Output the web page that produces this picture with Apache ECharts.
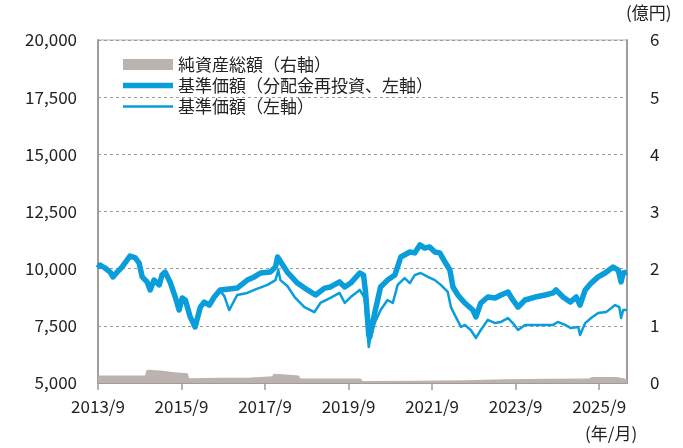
<!DOCTYPE html>
<html><head><meta charset="utf-8">
<script src="https://cdn.jsdelivr.net/npm/echarts@6/dist/echarts.min.js"></script>
<style>html,body{margin:0;padding:0;background:#fff}#c{width:683px;height:448px}</style>
</head><body><div id="c"></div>
<script>
// months since 2013/9
const xTickMonths = [0, 24, 48, 72, 96, 120, 144];
const xTickLabels = ['2013/9', '2015/9', '2017/9', '2019/9', '2021/9', '2023/9', '2025/9'];
const seriesNames = ['純資産総額（右軸）', '基準価額（分配金再投資、左軸）', '基準価額（左軸）'];

const navMonths = [0,0.6,2.0,3.5,4.3,5.5,6.9,8.4,9.2,10.7,11.8,12.7,14.1,15.0,16.1,17.6,18.4,19.3,20.7,22.2,23.3,24.2,25.1,26.5,27.6,27.9,29.4,30.5,32.0,33.4,35.1,37.7,40.0,42.9,44.9,46.7,49.5,51.0,51.6,52.7,54.4,57.3,60.2,62.5,65.1,66.8,69.4,70.9,72.6,75.2,76.3,76.9,77.8,78.1,79.5,81.2,83.2,85.3,87.0,89.6,91.0,92.5,93.9,95.3,96.8,98.2,99.7,101.1,102.0,103.4,105.4,107.7,108.6,110.0,112.0,114.1,115.8,117.8,119.2,120.7,122.7,125.6,128.5,130.8,131.6,133.6,135.7,137.4,138.5,140.0,141.7,143.7,145.7,148.0,149.5,150.3,150.9,152];
const navReinvest = [10030,10160,10030,9850,9640,9850,10070,10380,10550,10470,10250,9640,9420,9070,9500,9290,9720,9850,9420,8760,8190,8720,8630,7890,7540,7450,8320,8540,8410,8760,9070,9110,9150,9500,9640,9810,9850,10070,10510,10250,9850,9370,9070,8850,9150,9200,9420,9200,9370,9810,9720,8940,7100,7010,8060,9200,9500,9720,10510,10730,10690,11040,10900,10950,10730,10690,10290,9940,9200,8850,8500,8190,7890,8500,8760,8720,8850,8980,8630,8320,8630,8760,8850,8940,9070,8760,8540,8760,8410,9070,9370,9640,9810,10070,9940,9420,9810,9850];

const plainMonths = [0,0.6,2.0,3.5,4.3,5.5,6.9,8.4,9.2,10.7,11.8,12.7,14.1,15.0,16.1,17.6,18.4,19.3,20.7,22.2,23.3,24.2,25.1,26.5,27.6,27.9,29.4,30.5,32.0,33.4,35.1,36.3,37.7,40.0,42.9,44.9,48.7,51.0,51.8,52.4,54.4,56.5,59.3,62.2,63.9,66.8,69.4,70.9,72.6,75.2,76.6,77.8,78.1,79.5,81.2,83.2,84.7,86.1,88.1,89.6,91.0,92.7,94.8,96.8,98.5,100.5,101.4,102.8,104.3,105.4,107.1,108.6,110.0,112.0,114.1,115.8,117.8,119.2,120.7,122.7,125.6,128.5,130.8,132.1,134.2,135.9,138.0,138.5,140.0,141.7,143.7,146.0,148.6,149.8,150.3,150.9,152];
const navPlain = [10030,10160,10030,9850,9640,9850,10070,10380,10550,10470,10250,9640,9420,9070,9500,9290,9720,9850,9420,8760,8190,8720,8630,7890,7540,7450,8320,8540,8410,8760,9030,8800,8190,8850,8940,9070,9290,9500,9940,9500,9240,8760,8320,8100,8500,8720,8940,8500,8760,9070,8720,6570,6880,7620,8190,8630,8500,9290,9590,9370,9720,9810,9640,9500,9290,8980,8320,7890,7450,7540,7320,6970,7320,7760,7620,7670,7840,7620,7320,7540,7540,7540,7540,7670,7540,7400,7450,7100,7620,7840,8060,8100,8410,8320,7840,8190,8190];

const assetMonths = [0,13.5,14.0,18.0,22.0,25.8,26.2,35,43,43.5,50,50.5,54,57.7,58.2,75.5,76,92,105,117,130,141,142,149,152];
const assetValues = [0.13,0.13,0.23,0.22,0.19,0.17,0.085,0.09,0.09,0.11,0.12,0.16,0.15,0.13,0.08,0.08,0.035,0.04,0.05,0.065,0.075,0.08,0.105,0.105,0.07];

const zip = (a, b) => a.map((m, i) => [m, b[i]]);
const FONT = '"Noto Sans CJK JP", "Noto Sans", sans-serif';
const BLUE = '#0a9ddb';
const GREY = '#bcb3b0';
const AXIS = '#a29b98';

const chart = echarts.init(document.getElementById('c'), null, {renderer: 'canvas'});
chart.setOption({
  animation: false,
  textStyle: {fontFamily: FONT},
  grid: {left: 98, right: 56, top: 40, bottom: 65, show: true, borderColor: '#b5b0ae', borderWidth: 1},
  legend: {
    orient: 'vertical', left: 118, top: 49, itemWidth: 50, itemHeight: 11, itemGap: 0,
    symbolKeepAspect: true,
    textStyle: {fontSize: 17, lineHeight: 21, color: '#222', fontFamily: FONT},
    data: [
      {name: seriesNames[0], icon: 'path://M0,0H50V11H0Z', itemStyle: {color: GREY}},
      {name: seriesNames[1], icon: 'path://M0,0H50V5.5H0Z', itemStyle: {color: BLUE}},
      {name: seriesNames[2], icon: 'path://M0,0H50V2.5H0Z', itemStyle: {color: BLUE}}
    ]
  },
  xAxis: {
    type: 'value', min: 0, max: 152,
    axisLine: {lineStyle: {color: AXIS, width: 2}},
    axisTick: {show: true, length: 7, lineStyle: {color: AXIS, width: 1.5}, customValues: xTickMonths},
    axisLabel: {customValues: xTickMonths, formatter: v => xTickLabels[xTickMonths.indexOf(v)] || '', fontSize: 17, color: '#222', margin: 15, fontFamily: FONT},
    splitLine: {show: false}
  },
  yAxis: [
    {type: 'value', min: 5000, max: 20000, interval: 2500, position: 'left',
     axisLine: {show: true, lineStyle: {color: AXIS, width: 2}},
     axisTick: {show: false},
     axisLabel: {fontSize: 17, color: '#222', margin: 21, fontFamily: FONT, formatter: v => v.toLocaleString('en-US')},
     splitLine: {show: true, lineStyle: {color: '#9a9a9a', type: [3, 3], width: 1}}},
    {type: 'value', min: 0, max: 6, interval: 1, position: 'right',
     axisLine: {show: true, lineStyle: {color: AXIS, width: 2}},
     axisTick: {show: false},
     axisLabel: {fontSize: 17, color: '#222', margin: 23, fontFamily: FONT},
     splitLine: {show: false}}
  ],
  graphic: [
    {type: 'text', left: 626, top: 4, style: {text: '(億円)', fontSize: 17, fill: '#222', fontFamily: FONT}},
    {type: 'text', left: 585, top: 425, style: {text: '(年/月)', fontSize: 17, fill: '#222', fontFamily: FONT}}
  ],
  series: [
    {name: seriesNames[0], type: 'line', yAxisIndex: 1, data: zip(assetMonths, assetValues), symbol: 'none',
     lineStyle: {width: 0, color: GREY}, itemStyle: {color: GREY}, areaStyle: {color: GREY, opacity: 1}, z: 1},
    {name: seriesNames[1], type: 'line', yAxisIndex: 0, data: zip(navMonths, navReinvest), symbol: 'none',
     lineStyle: {width: 5.5, color: BLUE, join: 'round'}, itemStyle: {color: BLUE}, z: 3},
    {name: seriesNames[2], type: 'line', yAxisIndex: 0, data: zip(plainMonths, navPlain), symbol: 'none',
     lineStyle: {width: 2.5, color: BLUE, join: 'round'}, itemStyle: {color: BLUE}, z: 2}
  ]
});
</script></body></html>
